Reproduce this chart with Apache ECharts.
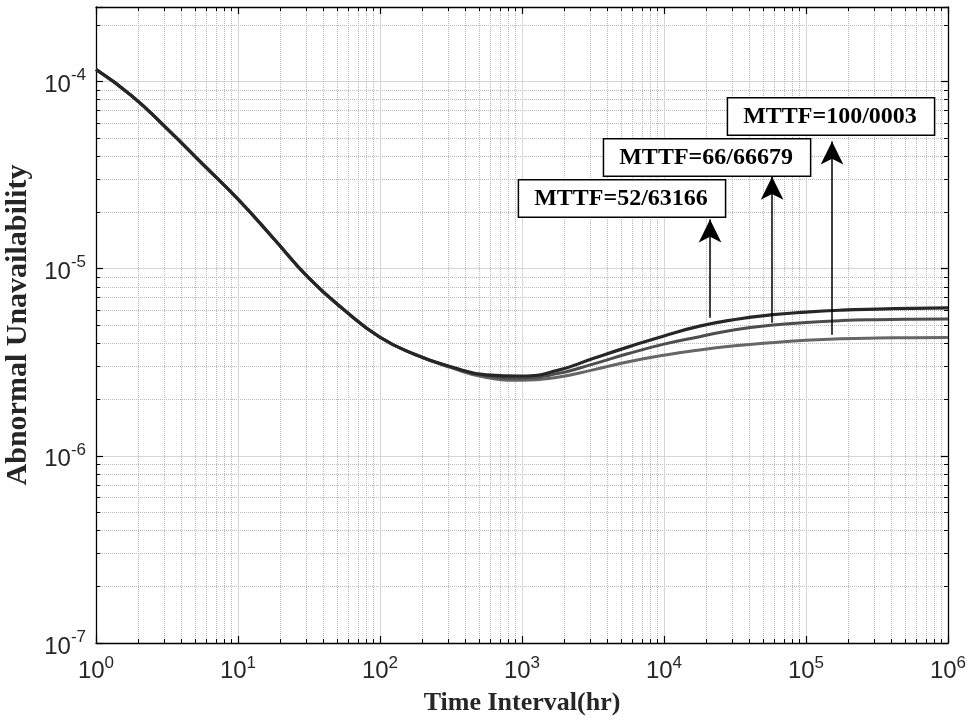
<!DOCTYPE html>
<html>
<head>
<meta charset="utf-8">
<script src="https://cdn.jsdelivr.net/npm/echarts@6/dist/echarts.min.js"></script>
<style>
  html, body { margin: 0; padding: 0; background: #fff; }
  #chart { width: 975px; height: 722px; }
</style>
</head>
<body>
<div id="chart"></div>
<script>
// time axis (hr), quarter decades
const timeHr = [1, 1.78, 3.16, 5.62, 10, 17.8, 31.6, 56.2, 100, 178, 316, 562, 1000, 1780, 3160, 5620,
  10000, 17800, 31600, 56200, 100000, 178000, 316000, 562000, 1000000];
// abnormal unavailability per MTTF case
const mttf52U = [1.16e-4, 8.4e-5, 5.6e-5, 3.63e-5, 2.35e-5, 1.45e-5, 8.9e-6, 6.0e-6, 4.3e-6, 3.47e-6, 2.99e-6, 2.71e-6, 2.67e-6, 2.86e-6, 3.31e-6, 3.82e-6,
  4.37e-6, 4.93e-6, 5.35e-6, 5.66e-6, 5.86e-6, 6.0e-6, 6.08e-6, 6.13e-6, 6.17e-6];
const mttf66U = [1.16e-4, 8.4e-5, 5.6e-5, 3.63e-5, 2.35e-5, 1.45e-5, 8.9e-6, 6.0e-6, 4.3e-6, 3.47e-6, 2.98e-6, 2.67e-6, 2.6e-6, 2.75e-6, 3.09e-6, 3.52e-6,
  3.95e-6, 4.33e-6, 4.72e-6, 4.98e-6, 5.16e-6, 5.28e-6, 5.34e-6, 5.37e-6, 5.38e-6];
const mttf100U = [1.16e-4, 8.4e-5, 5.6e-5, 3.63e-5, 2.35e-5, 1.45e-5, 8.9e-6, 6.0e-6, 4.3e-6, 3.47e-6, 2.96e-6, 2.62e-6, 2.53e-6, 2.63e-6, 2.88e-6, 3.18e-6,
  3.45e-6, 3.68e-6, 3.87e-6, 4.02e-6, 4.14e-6, 4.22e-6, 4.26e-6, 4.28e-6, 4.29e-6];

// annotations
const boxText = ["MTTF=52/63166", "MTTF=66/66679", "MTTF=100/0003"];
const boxX = [5060, 20100, 150000];
const boxY = [2.37e-5, 3.93e-5, 6.5e-5];
const arrowX = [21100, 57700, 152500];
const arrowFrom = [5.47e-6, 5.14e-6, 4.44e-6];
const arrowTo = [1.83e-5, 3.1e-5, 4.78e-5];

const pairs = (ys) => timeHr.map((t, i) => [t, ys[i]]);

const powLabel = (v) => {
  const e = Math.log10(v);
  const r = Math.round(e);
  if (Math.abs(e - r) > 1e-6) return "";
  return "{b|10}{s|" + r + "}";
};

const xRich = {
  b: { fontSize: 24, fontFamily: "Liberation Sans", color: "#262626" },
  s: { fontSize: 17, fontFamily: "Liberation Sans", color: "#262626", padding: [0, 0, 16, 0] },
};
const yRich = {
  b: { fontSize: 24, fontFamily: "Liberation Sans", color: "#262626", padding: [8, 0, 0, 0] },
  s: { fontSize: 17, fontFamily: "Liberation Sans", color: "#262626", padding: [0, 0, 12, 0] },
};

const mainAxis = (extra) => Object.assign({
  type: "log",
  logBase: 10,
  axisLine: { show: true, onZero: false, lineStyle: { color: "#000", width: 1.3 } },
  axisTick: { show: true, inside: true, length: 7, lineStyle: { color: "#000", width: 1.2 } },
  minorTick: { show: true, splitNumber: 9, length: 4, lineStyle: { color: "#000", width: 1 } },
  splitLine: { show: true, lineStyle: { color: "#d6d6d6", width: 1 } },
  minorSplitLine: { show: true, lineStyle: { color: "#b8b8b8", width: 1, type: "dotted" } },
}, extra);

const mirrorAxis = (extra) => Object.assign({
  type: "log",
  logBase: 10,
  axisLine: { show: true, onZero: false, lineStyle: { color: "#000", width: 1.3 } },
  axisTick: { show: true, inside: true, length: 7, lineStyle: { color: "#000", width: 1.2 } },
  minorTick: { show: true, splitNumber: 9, length: 4, lineStyle: { color: "#000", width: 1 } },
  axisLabel: { show: false },
  splitLine: { show: false },
}, extra);

const chart = echarts.init(document.getElementById("chart"));
const option = {
  backgroundColor: "#fff",
  animation: false,
  grid: { left: 96, right: 27, top: 7, bottom: 79, outerBoundsMode: "none" },
  xAxis: [
    mainAxis({
      min: 1,
      max: 1e6,
      name: "Time Interval(hr)",
      nameLocation: "middle",
      nameGap: 47,
      nameTextStyle: { fontFamily: "Liberation Serif", fontWeight: "bold", fontSize: 26, color: "#262626" },
      axisLabel: { margin: 12, formatter: powLabel, rich: xRich },
    }),
    mirrorAxis({ min: 1, max: 1e6, position: "top" }),
  ],
  yAxis: [
    mainAxis({
      min: 1e-7,
      max: 2.5e-4,
      name: "Abnormal Unavailability",
      nameLocation: "middle",
      nameGap: 52,
      nameRotate: 90,
      nameTextStyle: { fontFamily: "Liberation Serif", fontWeight: "bold", fontSize: 30, color: "#262626" },
      axisLabel: { margin: 10, showMaxLabel: false, formatter: powLabel, rich: yRich },
    }),
    mirrorAxis({ min: 1e-7, max: 2.5e-4, position: "right" }),
  ],
  series: [
    {
      name: "MTTF=100/0003",
      type: "line",
      smooth: 0.5,
      symbol: "none",
      data: pairs(mttf100U),
      lineStyle: { color: "#666666", width: 3 },
    },
    {
      name: "MTTF=66/66679",
      type: "line",
      smooth: 0.5,
      symbol: "none",
      data: pairs(mttf66U),
      lineStyle: { color: "#4d4d4d", width: 3 },
    },
    {
      name: "MTTF=52/63166",
      type: "line",
      smooth: 0.5,
      symbol: "none",
      data: pairs(mttf52U),
      lineStyle: { color: "#262626", width: 3.2 },
      markLine: {
        silent: true,
        symbol: ["none", "arrow"],
        symbolSize: [17, 23],
        label: { show: false },
        lineStyle: { color: "#000", width: 1.5, type: "solid" },
        data: arrowX.map((x, i) => [
          { coord: [x, arrowFrom[i]] },
          { coord: [x, arrowTo[i]] },
        ]),
      },
      markPoint: {
        silent: true,
        symbol: "circle",
        symbolSize: 0,
        label: {
          show: true,
          position: "inside",
          formatter: "{b}",
          color: "#000",
          fontFamily: "Liberation Serif",
          fontWeight: "bold",
          fontSize: 24,
          lineHeight: 24,
          backgroundColor: "#fff",
          borderColor: "#000",
          borderWidth: 1.5,
          padding: [6, 17, 6, 15],
        },
        data: boxText.map((t, i) => ({ name: t, coord: [boxX[i], boxY[i]] })),
      },
    },
  ],
};
chart.setOption(option);
</script>
</body>
</html>
